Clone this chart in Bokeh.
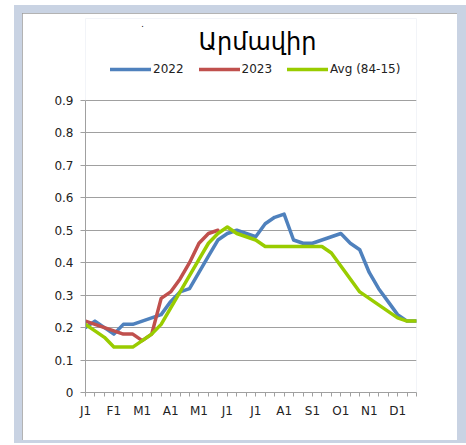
from bokeh.plotting import figure
from bokeh.models import Range1d, FixedTicker, Legend, LegendItem, Label, InlineStyleSheet
from bokeh.layouts import column
from bokeh.embed import file_html
from bokeh.resources import INLINE

chart_title = "Արմավիր"
x_tick_labels = ["J1", "F1", "M1", "A1", "M1", "J1", "J1", "A1", "S1", "O1", "N1", "D1"]
y_tick_values = [0, 0.1, 0.2, 0.3, 0.4, 0.5, 0.6, 0.7, 0.8, 0.9]
y_tick_labels = ["0", "0.1", "0.2", "0.3", "0.4", "0.5", "0.6", "0.7", "0.8", "0.9"]
series_names = ["2022", "2023", "Avg (84-15)"]

values_2022 = [0.20, 0.22, 0.20, 0.18, 0.21, 0.21, 0.22, 0.23, 0.24, 0.28,
               0.31, 0.32, 0.37, 0.42, 0.47, 0.49, 0.50, 0.49, 0.48, 0.52,
               0.54, 0.55, 0.47, 0.46, 0.46, 0.47, 0.48, 0.49, 0.46, 0.44,
               0.37, 0.32, 0.28, 0.24, 0.22, 0.22]
values_2023 = [0.22, 0.21, 0.20, 0.19, 0.18, 0.18, 0.16, 0.18, 0.29, 0.31,
               0.35, 0.40, 0.46, 0.49, 0.50]
values_avg = [0.21, 0.19, 0.17, 0.14, 0.14, 0.14, 0.16, 0.18, 0.21, 0.26,
              0.31, 0.36, 0.41, 0.46, 0.49, 0.51, 0.49, 0.48, 0.47, 0.45,
              0.45, 0.45, 0.45, 0.45, 0.45, 0.45, 0.43, 0.39, 0.35, 0.31,
              0.29, 0.27, 0.25, 0.23, 0.22, 0.22]

colors = ["#4F81BD", "#C0504D", "#99CC00"]
font = "DejaVu Sans"
gray = "#a0a0a0"

n_periods = len(values_2022)
periods = list(range(n_periods))

# frame: data area 292px tall for 0..0.9, extended upward by 82px for title/legend
y_max = 0.9
y_top = y_max * (292 + 82) / 292

p = figure(width=435, height=427,
           x_range=Range1d(0, n_periods - 1), y_range=Range1d(0, y_top),
           output_backend="svg", toolbar_location=None,
           min_border_left=63, min_border_right=41,
           min_border_top=5, min_border_bottom=48,
           outline_line_color=None,
           background_fill_color="white", border_fill_color="white")

p.xgrid.visible = False
p.ygrid.ticker = FixedTicker(ticks=y_tick_values)
p.ygrid.grid_line_color = gray
p.ygrid.grid_line_width = 1

p.yaxis.ticker = FixedTicker(ticks=y_tick_values)
p.yaxis.bounds = (0, y_max)
p.yaxis.major_label_overrides = dict(zip(y_tick_values, y_tick_labels))
p.xaxis.ticker = FixedTicker(ticks=periods)
p.xaxis.major_label_overrides = {
    i: (x_tick_labels[i // 3] if i % 3 == 0 else "") for i in periods
}
for ax in (p.xaxis, p.yaxis):
    ax.axis_line_color = gray
    ax.major_tick_line_color = gray
    ax.minor_tick_line_color = None
    ax.major_tick_in = 0
    ax.major_label_text_font = font
    ax.major_label_text_font_size = "12px"
    ax.major_label_text_color = "#222222"
p.yaxis.major_tick_out = 5
p.yaxis.major_label_standoff = 7
p.xaxis.major_tick_out = 4
p.xaxis.major_label_standoff = 7

r1 = p.line(periods, values_2022, line_color=colors[0], line_width=3.5,
            line_join="round", line_cap="round")
r2 = p.line(periods[:len(values_2023)], values_2023, line_color=colors[1],
            line_width=3.5, line_join="round", line_cap="round")
r3 = p.line(periods, values_avg, line_color=colors[2], line_width=3.5,
            line_join="round", line_cap="round")

legend = Legend(items=[LegendItem(label=series_names[0], renderers=[r1]),
                       LegendItem(label=series_names[1], renderers=[r2]),
                       LegendItem(label=series_names[2], renderers=[r3])],
                orientation="horizontal", location=(25, 316),
                padding=0, margin=0, spacing=15,
                glyph_width=41, glyph_height=12, label_height=12,
                label_standoff=2, border_line_color=None,
                background_fill_alpha=0,
                label_text_font=font, label_text_font_size="12px",
                label_text_color="#222222")
p.add_layout(legend)

p.add_layout(Label(x=172, y=351, x_units="screen", y_units="screen",
                   text=chart_title, text_align="center",
                   text_baseline="alphabetic", text_font=font,
                   text_font_size="24px", text_color="#000000"))
p.add_layout(Label(x=57, y=369, x_units="screen", y_units="screen",
                   text=".", text_align="center",
                   text_baseline="alphabetic", text_font=font,
                   text_font_size="8px", text_color="#000000"))

p.styles = {"outline": "1px solid #9a9a9a", "outline-offset": "-1px"}

sheet = InlineStyleSheet(css=":host { background-color: #c9d3e3 !important; "
                             "margin: 5px 0px 0px 14px; "
                             "padding: 8px 9px 3px 8px; }")
layout = column(p, stylesheets=[sheet])

open("out.html", "w").write(file_html(layout, INLINE))
